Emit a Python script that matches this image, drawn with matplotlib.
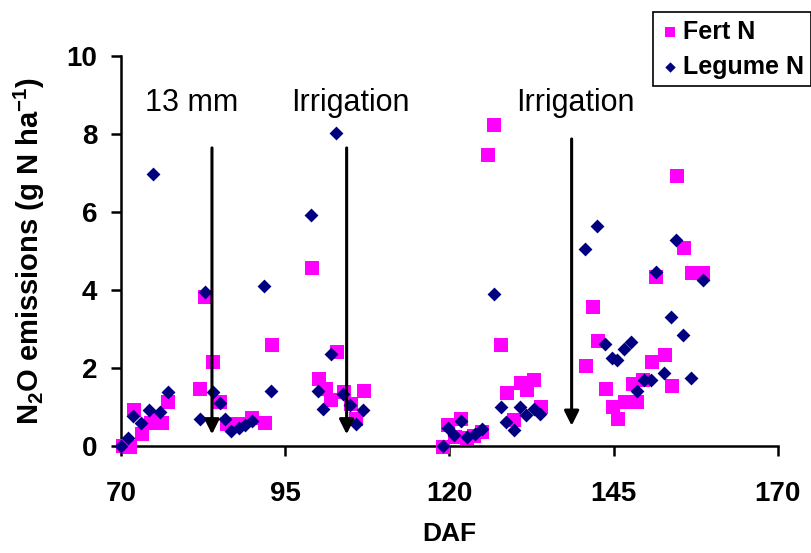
import matplotlib
matplotlib.use("Agg")
import matplotlib.pyplot as plt

# data (days after fertiliser, g N2O-N per ha)
fert_x = [70.3, 71.3, 72.0, 73.2, 74.6, 75.4, 76.3, 77.2, 82.1, 82.8, 84.0, 85.1,
          86.1, 88.1, 90.0, 91.9, 93.0,
          99.1, 100.2, 101.2, 102.0, 102.9, 104.0, 105.0, 105.8, 107.0,
          119.0, 119.8, 120.8, 121.8, 122.7, 123.8, 124.9, 125.8, 126.8, 127.9,
          128.8, 129.9, 130.9, 131.8, 132.9, 133.9,
          140.8, 141.9, 142.6, 143.8, 144.9, 145.7, 146.7, 147.9, 148.6, 149.5,
          150.9, 151.5, 152.8, 153.9, 154.7, 155.7, 156.9, 158.6]
fert_y = [0.0, -0.03, 0.91, 0.32, 0.58, 0.75, 0.58, 1.14, 1.46, 3.83, 2.15, 1.12,
          0.56, 0.56, 0.71, 0.58, 2.59,
          4.56, 1.72, 1.45, 1.18, 2.41, 1.39, 1.08, 0.68, 1.41,
          -0.02, 0.54, 0.24, 0.68, 0.2, 0.25, 0.35, 7.46, 8.23, 2.59,
          1.37, 0.67, 1.61, 1.44, 1.69, 1.0,
          2.05, 3.56, 2.69, 1.45, 1.01, 0.68, 1.14, 1.6, 1.14, 1.69,
          2.15, 4.32, 2.33, 1.54, 6.92, 5.07, 4.43, 4.43]

leg_x = [70.0, 71.1, 71.9, 73.0, 74.2, 74.9, 76.0, 77.1, 82.0, 82.8, 84.0, 85.1,
         85.8, 86.8, 88.0, 88.9, 90.0, 91.8, 92.8,
         98.9, 100.0, 100.8, 101.9, 102.7, 103.8, 104.9, 105.8, 106.9,
         119.0, 119.8, 120.7, 121.8, 122.6, 123.9, 124.9, 126.8, 127.8, 128.6,
         129.8, 130.8, 131.7, 132.8, 133.8,
         140.6, 142.5, 143.7, 144.7, 145.5, 146.6, 147.6, 148.5, 149.6, 150.7,
         151.5, 152.6, 153.7, 154.5, 155.6, 156.7, 158.6]
leg_y = [0.0, 0.2, 0.78, 0.58, 0.92, 6.97, 0.86, 1.38, 0.68, 3.94, 1.38, 1.09,
         0.68, 0.39, 0.45, 0.54, 0.64, 4.09, 1.42,
         5.92, 1.42, 0.96, 2.35, 8.02, 1.33, 1.05, 0.56, 0.92,
         0.0, 0.45, 0.28, 0.65, 0.22, 0.3, 0.43, 3.9, 1.01, 0.61,
         0.41, 1.01, 0.79, 0.94, 0.82,
         5.04, 5.64, 2.62, 2.25, 2.21, 2.48, 2.66, 1.42, 1.69, 1.69,
         4.45, 1.88, 3.3, 5.27, 2.85, 1.75, 4.26]

# events marked with arrows
event_x = [83.85, 104.35, 138.6]
event_top = [7.64, 7.64, 7.87]
event_tip = [0.3, 0.3, 0.52]
event_labels = ["13 mm", "Irrigation", "Irrigation"]
label_x = [80.8, 104.9, 139.1]

plt.rcParams['font.family'] = ['Liberation Sans', 'DejaVu Sans']
plt.rcParams['mathtext.fontset'] = 'custom'
plt.rcParams['mathtext.rm'] = 'Liberation Sans:bold'
plt.rcParams['mathtext.default'] = 'rm'

fig = plt.figure(figsize=(8.12, 5.53), dpi=100)
ax = fig.add_axes([0.149, 0.1935, 0.809, 0.7055])

ax.scatter(fert_x, fert_y, marker='s', s=88, color='#FF00FF', linewidths=0,
           label='Fert N', zorder=3, clip_on=False)
ax.scatter(leg_x, leg_y, marker='D', s=50, color='#000080', linewidths=0,
           label='Legume N', zorder=4, clip_on=False)

for ex, top, tip, lx, txt in zip(event_x, event_top, event_tip, label_x, event_labels):
    ax.annotate('', xy=(ex, tip), xytext=(ex, top),
                arrowprops=dict(arrowstyle='-|>', color='black', lw=2.2,
                                mutation_scale=22, shrinkA=0, shrinkB=0),
                zorder=5)
    ax.text(lx, 8.8, txt, ha='center', va='center', fontsize=22)

ax.set_xlim(70, 170)
ax.set_ylim(0, 10)
ax.set_xticks([70, 95, 120, 145, 170])
ax.set_yticks([0, 2, 4, 6, 8, 10])
for s in ['top', 'right']:
    ax.spines[s].set_visible(False)
for s in ['left', 'bottom']:
    ax.spines[s].set_linewidth(1.8)
ax.tick_params(direction='out', length=7, width=1.8, labelsize=20, pad=10)
for lab in ax.get_xticklabels() + ax.get_yticklabels():
    lab.set_fontweight('bold')
ax.tick_params(axis='x', pad=18)

ax.set_xlabel('DAF', fontsize=19, fontweight='bold', labelpad=11)
ax.set_ylabel(r'N$_2$O emissions (g N ha$^{-1}$)', fontsize=21, fontweight='bold',
              labelpad=14)

leg = fig.legend(loc='upper right', bbox_to_anchor=(0.999, 0.978),
                 prop={'weight': 'bold', 'size': 18}, fancybox=False,
                 edgecolor='black', framealpha=1, handletextpad=0.1,
                 borderpad=0.3, labelspacing=0.45, handlelength=0.8,
                 borderaxespad=0, markerscale=0.75)
leg.get_frame().set_linewidth(1.2)

fig.savefig('out.png', dpi=100)
